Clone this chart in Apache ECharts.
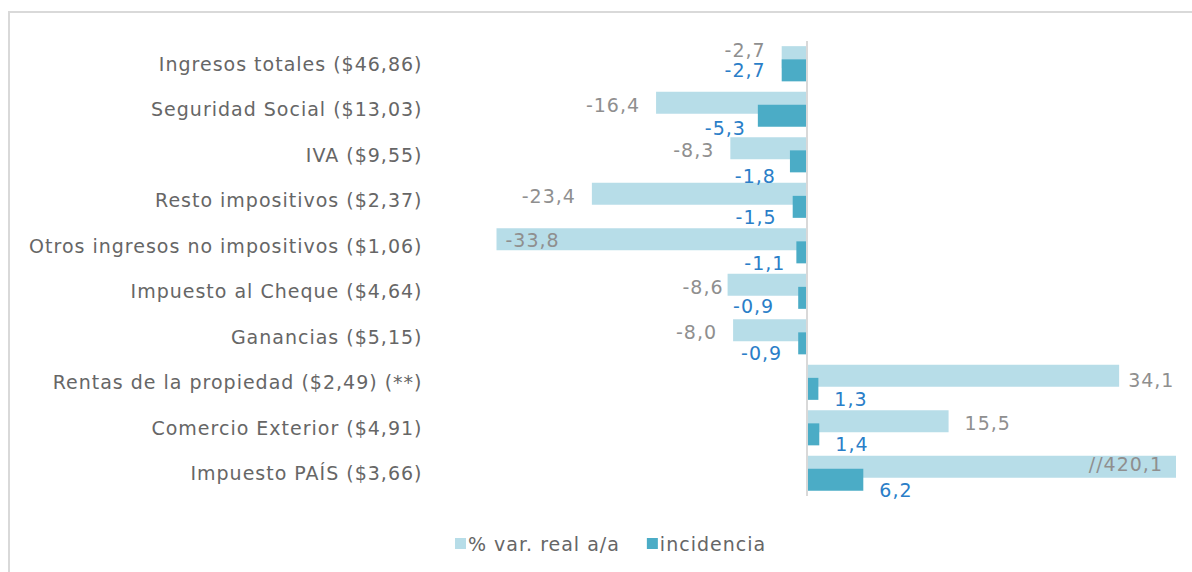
<!DOCTYPE html>
<html>
<head>
<meta charset="utf-8">
<script src="https://cdn.jsdelivr.net/npm/echarts@6/dist/echarts.min.js"></script>
<style>
html,body{margin:0;padding:0;background:#fff;}
#chart{width:1192px;height:572px;}
#chart svg text{letter-spacing:1px;}
</style>
</head>
<body>
<div id="chart"></div>
<script>
const categories = [
  'Ingresos totales ($46,86)',
  'Seguridad Social ($13,03)',
  'IVA ($9,55)',
  'Resto impositivos ($2,37)',
  'Otros ingresos no impositivos ($1,06)',
  'Impuesto al Cheque ($4,64)',
  'Ganancias ($5,15)',
  'Rentas de la propiedad ($2,49) (**)',
  'Comercio Exterior ($4,91)',
  'Impuesto PAÍS ($3,66)'
];
const varReal = [-2.7, -16.4, -8.3, -23.4, -33.8, -8.6, -8.0, 34.1, 15.5, 420.1];
const incidencia = [-2.7, -5.3, -1.8, -1.5, -1.1, -0.9, -0.9, 1.3, 1.4, 6.2];
const seriesNames = ['% var. real a/a', 'incidencia'];

const X_MIN = -35, X_MAX = 40.3;
const FONT = 'DejaVu Sans';
const FS = 19;
const fmt = v => (v > X_MAX ? '//' : '') + v.toFixed(1).replace('.', ',');

// label placement tweaks (styling, per item index)
const lightLabelTweaks = {
  0: {offset: [0, -7]},
  4: {position: 'insideLeft', distance: 9, offset: [0, 1]},
  5: {distance: 4},
  7: {distance: 9, offset: [0, 4]},
  9: {position: 'insideRight', distance: 13, offset: [0, -3]}
};
const darkLabelTweaks = {
  0: {offset: [0, 0]},
  1: {offset: [4, 12]},
  2: {offset: [2, 15]},
  4: {distance: 11, offset: [0, 11]},
  5: {offset: [-8, 8]}
};

const lightData = varReal.map((v, i) => {
  const base = {position: v < 0 ? 'left' : 'right', distance: 16, offset: [0, 2]};
  return {value: v, label: Object.assign(base, lightLabelTweaks[i] || {})};
});
const darkData = incidencia.map((v, i) => {
  const base = {position: v < 0 ? 'left' : 'right', distance: 16, offset: [0, 10]};
  return {value: v, label: Object.assign(base, darkLabelTweaks[i] || {})};
});

const chart = echarts.init(document.getElementById('chart'), null, {renderer: 'svg'});
chart.setOption({
  animation: false,
  backgroundColor: '#ffffff',
  textStyle: {fontFamily: FONT},
  graphic: [{
    type: 'rect',
    shape: {x: 9, y: 12, width: 1200, height: 600},
    style: {fill: 'none', stroke: '#d9d9d9', lineWidth: 2},
    silent: true
  }],
  legend: {
    data: seriesNames,
    bottom: 14,
    left: 450,
    itemWidth: 11,
    itemHeight: 11,
    itemGap: 42,
    icon: 'rect',
    textStyle: {color: '#666666', fontSize: FS, fontFamily: FONT, padding: [0, 0, 0, -3]}
  },
  grid: {left: 485.5, right: 16, top: 41, bottom: 76, containLabel: false},
  xAxis: {
    type: 'value', min: X_MIN, max: X_MAX,
    axisLine: {show: false}, axisTick: {show: false},
    axisLabel: {show: false}, splitLine: {show: false}
  },
  yAxis: {
    type: 'category', data: categories, inverse: true,
    axisLine: {show: false}, axisTick: {show: false},
    axisLabel: {color: '#666666', fontSize: FS, fontFamily: FONT, margin: 63}
  },
  series: [
    {
      name: seriesNames[0], type: 'bar', data: lightData,
      barWidth: 22, barGap: '-40%',
      itemStyle: {color: '#b7dde8'},
      label: {show: true, color: '#8f8f8f', fontSize: FS, fontFamily: FONT, formatter: p => fmt(p.value)},
      markLine: {
        silent: true, symbol: 'none',
        label: {show: false},
        lineStyle: {color: '#d9d9d9', width: 2, type: 'solid'},
        data: [{xAxis: 0}]
      },
      z: 2
    },
    {
      name: seriesNames[1], type: 'bar', data: darkData,
      barWidth: 22, barGap: '-40%',
      itemStyle: {color: '#4bacc6'},
      label: {show: true, color: '#2a7ec8', fontSize: FS, fontFamily: FONT, formatter: p => fmt(p.value)},
      z: 3
    }
  ]
});
</script>
</body>
</html>
